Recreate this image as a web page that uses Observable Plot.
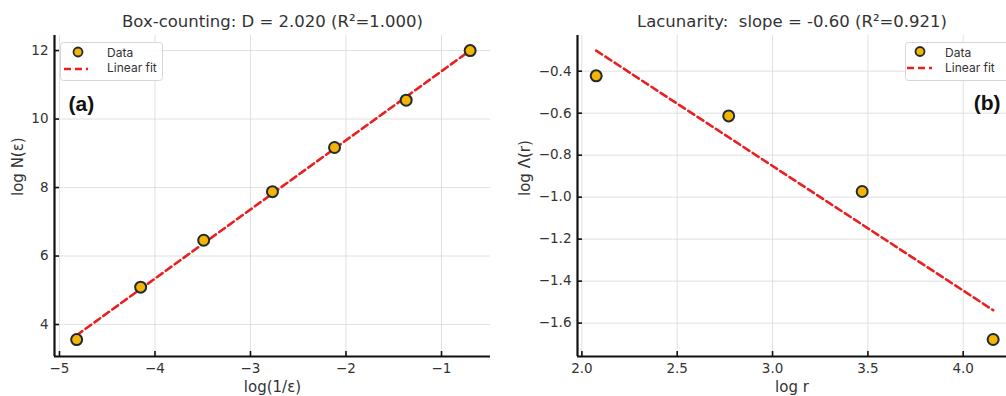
<!DOCTYPE html>
<html>
<head>
<meta charset="utf-8">
<script src="https://cdn.jsdelivr.net/npm/d3@7"></script>
<script src="https://cdn.jsdelivr.net/npm/@observablehq/plot@0.6"></script>
<style>
  html, body { margin: 0; padding: 0; background: #fff; }
  body { width: 1006px; height: 396px; overflow: hidden; position: relative; font-family: "DejaVu Sans", sans-serif; }
  .panel { position: absolute; top: 0; }
  .legend { position: absolute; overflow: visible; }
</style>
</head>
<body>
<div id="left" class="panel" style="left:0px"></div>
<div id="right" class="panel" style="left:503px"></div>
<script>
// ---- Data: box-counting (panel a)
const boxLogInvEps = [-4.82, -4.15, -3.49, -2.77, -2.12, -1.37, -0.70];
const boxLogN      = [3.56, 5.09, 6.46, 7.88, 9.17, 10.55, 12.00];
const boxXTicks = [-5, -4, -3, -2, -1];
const boxYTicks = [4, 6, 8, 10, 12];
const boxTitle = "Box-counting: D = 2.020 (R²=1.000)";

// ---- Data: lacunarity (panel b)
const lacLogR      = [2.075, 2.770, 3.470, 4.157];
const lacLogLambda = [-0.422, -0.613, -0.973, -1.678];
const lacXTicks = [2.0, 2.5, 3.0, 3.5, 4.0];
const lacYTicks = [-1.6, -1.4, -1.2, -1.0, -0.8, -0.6, -0.4];
const lacTitle = "Lacunarity:  slope = -0.60 (R²=0.921)";

const GOLD = "#f4b400", EDGE = "#1e2b36", RED = "#ea1f1f", TXT = "#333";

function panel({xs, ys, xDomain, yDomain, xTicks, yTicks, fmtX, fmtY, title, xLabel, yLabel, tag,
                width, marginLeft, marginRight, yLabelDx, tagAnchor}) {
  const H = 396, mT = 35, mB = 40;
  const frameH = H - mT - mB, frameW = width - marginLeft - marginRight;
  const data = xs.map((x, i) => ({x, y: ys[i]}));
  return Plot.plot({
    width, height: H, marginTop: mT, marginBottom: mB, marginLeft, marginRight,
    style: {fontFamily: "DejaVu Sans, sans-serif", fontSize: "13.5px", color: TXT, background: "transparent", overflow: "visible"},
    x: {domain: xDomain},
    y: {domain: yDomain},
    marks: [
      Plot.gridX(xTicks, {stroke: "#d8d8d8", strokeOpacity: 0.8, strokeWidth: 1}),
      Plot.gridY(yTicks, {stroke: "#d8d8d8", strokeOpacity: 0.8, strokeWidth: 1}),
      Plot.axisX({ticks: xTicks, tickSize: 0, tickPadding: 7, tickFormat: fmtX, label: null, fill: TXT}),
      Plot.axisY({ticks: yTicks, tickSize: 0, tickPadding: 6, tickFormat: fmtY, label: null, fill: TXT}),
      Plot.tickX(xTicks, {x: d => d, insetTop: frameH - 5, stroke: "#111", strokeWidth: 1.6}),
      Plot.tickY(yTicks, {y: d => d, insetRight: frameW - 5, stroke: "#111", strokeWidth: 1.6}),
      Plot.ruleX([xDomain[0]], {stroke: "#111", strokeWidth: 2.2}),
      Plot.ruleY([yDomain[0]], {stroke: "#111", strokeWidth: 2.2}),
      Plot.linearRegressionY(data, {x: "x", y: "y", ci: 0, stroke: RED, strokeWidth: 2.6, strokeDasharray: "7,4"}),
      Plot.dot(data, {x: "x", y: "y", r: 5.5, fill: GOLD, stroke: EDGE, strokeWidth: 2}),
      Plot.text([title], {frameAnchor: "top", dy: -14, fontSize: 16.5, fill: TXT, lineAnchor: "middle"}),
      Plot.text([xLabel], {frameAnchor: "bottom", dy: 31, fontSize: 15, fill: TXT, lineAnchor: "middle"}),
      Plot.text([yLabel], {frameAnchor: "left", dx: yLabelDx, rotate: -90, fontSize: 15, fill: TXT, lineAnchor: "middle"}),
      Plot.text([tag], tagAnchor)
    ]
  });
}

document.getElementById("left").append(panel({
  xs: boxLogInvEps, ys: boxLogN,
  xDomain: [-5.052, -0.487], yDomain: [3.066, 12.44],
  xTicks: boxXTicks, yTicks: boxYTicks,
  fmtX: d3.format("d"), fmtY: d3.format("d"),
  title: boxTitle, xLabel: "log(1/ε)", yLabel: "log N(ε)", tag: "(a)",
  width: 503, marginLeft: 54, marginRight: 13, yLabelDx: -36,
  tagAnchor: {frameAnchor: "top-left", dx: 14, dy: 69, fontSize: 21, fontWeight: "bold", fontFamily: "Liberation Sans, Arial, sans-serif", textAnchor: "start", lineAnchor: "middle", fill: "#111"}
}));

document.getElementById("right").append(panel({
  xs: lacLogR, ys: lacLogLambda,
  xDomain: [1.977, 4.227], yDomain: [-1.759, -0.23],
  xTicks: lacXTicks, yTicks: lacYTicks,
  fmtX: d3.format(".1f"), fmtY: d3.format(".1f"),
  title: lacTitle, xLabel: "log r", yLabel: "log Λ(r)", tag: "(b)",
  width: 503, marginLeft: 74, marginRight: 0, yLabelDx: -52,
  tagAnchor: {frameAnchor: "top-right", dx: -6, dy: 68, fontSize: 21, fontWeight: "bold", fontFamily: "Liberation Sans, Arial, sans-serif", textAnchor: "end", lineAnchor: "middle", fill: "#111"}
}));

// ---- Legends (overlay boxes)
function legend(left, top, w, h, c, lineX1, lineX2, lineY, textX, y1, y2) {
  const ns = "http://www.w3.org/2000/svg";
  const svg = document.createElementNS(ns, "svg");
  svg.setAttribute("class", "legend");
  svg.setAttribute("width", w + 2); svg.setAttribute("height", h + 2);
  svg.style.left = left + "px"; svg.style.top = top + "px";
  svg.innerHTML = `
    <rect x="0.5" y="0.5" width="${w}" height="${h}" rx="3" fill="#fff" fill-opacity="0.9" stroke="#d6d6d6"/>
    <circle cx="${c[0]}" cy="${c[1]}" r="4.5" fill="${GOLD}" stroke="${EDGE}" stroke-width="1.8"/>
    <line x1="${lineX1}" x2="${lineX2}" y1="${lineY}" y2="${lineY}" stroke="${RED}" stroke-width="2.6" stroke-dasharray="7,4"/>
    <text x="${textX}" y="${y1}" font-family="Inter, Roboto, sans-serif" font-size="12" fill="${TXT}" dominant-baseline="central">Data</text>
    <text x="${textX}" y="${y2}" font-family="Inter, Roboto, sans-serif" font-size="12" fill="${TXT}" dominant-baseline="central">Linear fit</text>`;
  document.body.append(svg);
}
legend(60, 42, 102, 38, [18, 10], 4, 28, 27, 47, 10, 25);
legend(905, 42, 110, 38, [15, 9.5], 2, 27, 26, 40, 10, 25);
</script>
</body>
</html>
